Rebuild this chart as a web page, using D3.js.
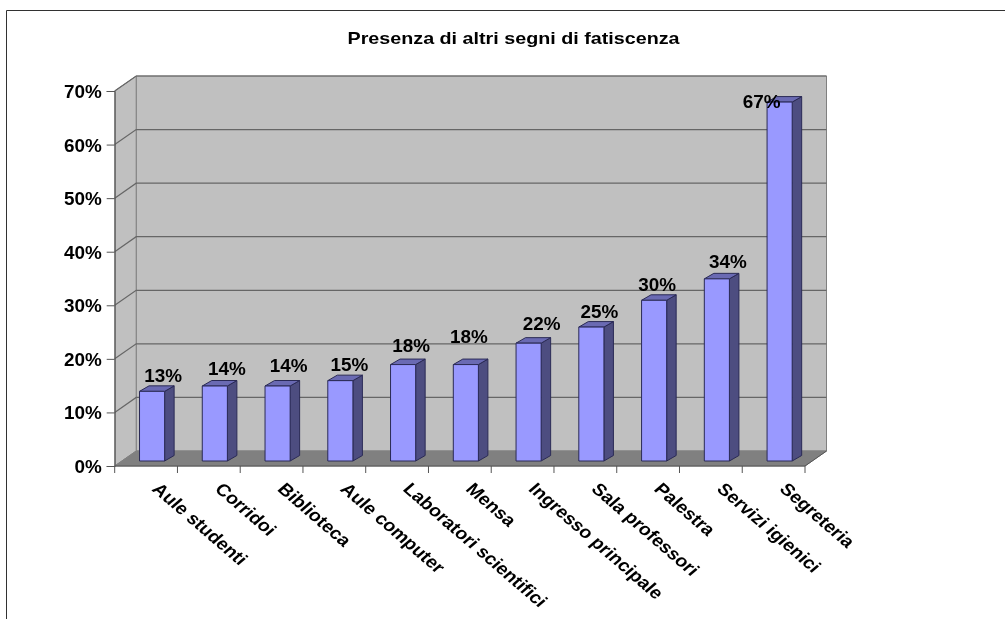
<!DOCTYPE html>
<html><head><meta charset="utf-8">
<script src="https://cdn.jsdelivr.net/npm/d3@7/dist/d3.min.js"></script>
<style>html,body{margin:0;padding:0;background:#fff}svg{display:block}text{font-family:"Liberation Sans",Arial,sans-serif;font-weight:bold;fill:#000}</style>
</head><body><svg id="c" width="1005" height="619"></svg>
<script>
const title = "Presenza di altri segni di fatiscenza";
const categories = ["Aule studenti","Corridoi","Biblioteca","Aule computer","Laboratori scientifici","Mensa","Ingresso principale","Sala professori","Palestra","Servizi igienici","Segreteria"];
const values = [13,14,14,15,18,18,22,25,30,34,67];
const yTicks = [0,10,20,30,40,50,60,70];

const root = d3.select("#c");
const defs = root.append("defs");
defs.append("filter").attr("id","soft").attr("x",0).attr("y",0).attr("width","100%").attr("height","100%")
  .append("feGaussianBlur").attr("stdDeviation",0.35);
const svg = root.append("g").attr("filter","url(#soft)");
svg.append("rect").attr("width",1005).attr("height",619).attr("fill","#fff");
const X0=114.7, X1=805, Y0=466, Y1=91, DX=21.5, DY=-15, SX=1.16, NX=1.05;
const x = d3.scaleBand().domain(categories).range([X0,X1]).paddingInner(0).paddingOuter(0);
const y = d3.scaleLinear().domain([0,70]).range([Y0,Y1]);
const poly = (pts,fill,stroke,sw)=>svg.append("polygon").attr("points",pts.map(p=>p.join(",")).join(" ")).attr("fill",fill).attr("stroke",stroke||"none").attr("stroke-width",sw||0);

// chart border
svg.append("path").attr("d","M6.5,619V10.5H1005").attr("fill","none").attr("stroke","#333").attr("stroke-width",1);

// walls and floor
poly([[X0+DX,Y1+DY],[X1+DX,Y1+DY],[X1+DX,Y0+DY],[X0+DX,Y0+DY]],"#c0c0c0","#808080",1);
poly([[X0,Y1],[X0+DX,Y1+DY],[X0+DX,Y0+DY],[X0,Y0]],"#c0c0c0","#808080",1);
poly([[X0,Y0],[X0+DX,Y0+DY],[X1+DX,Y0+DY],[X1,Y0]],"#808080","#808080",1);

// gridlines
const grid = svg.append("g").attr("fill","none").attr("stroke","#666").attr("stroke-width",1.2);
yTicks.filter(t=>t>0).forEach(t=>{
  grid.append("path").attr("d",`M${X0},${y(t)}L${X0+DX},${y(t)+DY}H${X1+DX}`);
});

// axes
const yAxis = d3.axisLeft(y).tickValues(yTicks).tickFormat(d=>d+"%").tickSize(8);
const ga = svg.append("g").attr("transform",`translate(${X0},0)`).call(yAxis);
ga.selectAll("text").style("font-size","18px").attr("x",-13/NX).attr("transform",`scale(${NX},1)`).attr("dy","0.36em");
ga.selectAll("line,path").attr("stroke","#555");
svg.append("path").attr("d",`M${X0},${Y0}H${X1}L${X1+DX},${Y0+DY}`).attr("fill","none").attr("stroke","#555");
const tickPos = categories.map(c=>x(c)).concat([X1]);
svg.selectAll(".xt").data(tickPos).join("line").attr("class","xt").attr("x1",d=>d).attr("x2",d=>d).attr("y1",Y0).attr("y2",Y0+7).attr("stroke","#555");

// bars
const bw = x.bandwidth()*0.4, depthX=9.5, depthY=-5.5, shiftX=6, shiftY=-5;
const labelDx=[11,12,11,9,8,3,13,8,3,11,-18], labelDy=[-16,-17,-20,-16,-19.5,-28,-20,-16,-16,-17,-1];
const edge="#2a2a55";
categories.forEach((c,i)=>{
  const l = x(c)+x.bandwidth()/2-bw/2+shiftX, r=l+bw;
  const t = y(values[i])+shiftY, b=Y0+shiftY;
  poly([[r,t],[r+depthX,t+depthY],[r+depthX,b+depthY],[r,b]],"#4d4d80",edge,1);
  poly([[l,t],[l+depthX,t+depthY],[r+depthX,t+depthY],[r,t]],"#6b6bb3",edge,1);
  poly([[l,t],[r,t],[r,b],[l,b]],"#9999ff",edge,1);
});
categories.forEach((c,i)=>{
  const cx = x(c)+x.bandwidth()/2+shiftX, t=y(values[i])+shiftY;
  svg.append("text").attr("transform",`translate(${cx+labelDx[i]},${t+labelDy[i]}) scale(${NX},1)`).attr("dy","0.36em").attr("text-anchor","middle").style("font-size","18px").text(values[i]+"%");
  svg.append("text").attr("transform",`translate(${x(c)+x.bandwidth()/2+5},${Y0+24}) scale(${SX},1) rotate(45)`).style("font-size","17px").text(c);
});

svg.append("text").attr("transform",`translate(513.5,44) scale(${SX},1)`).attr("text-anchor","middle").style("font-size","17px").text(title);
</script></body></html>
